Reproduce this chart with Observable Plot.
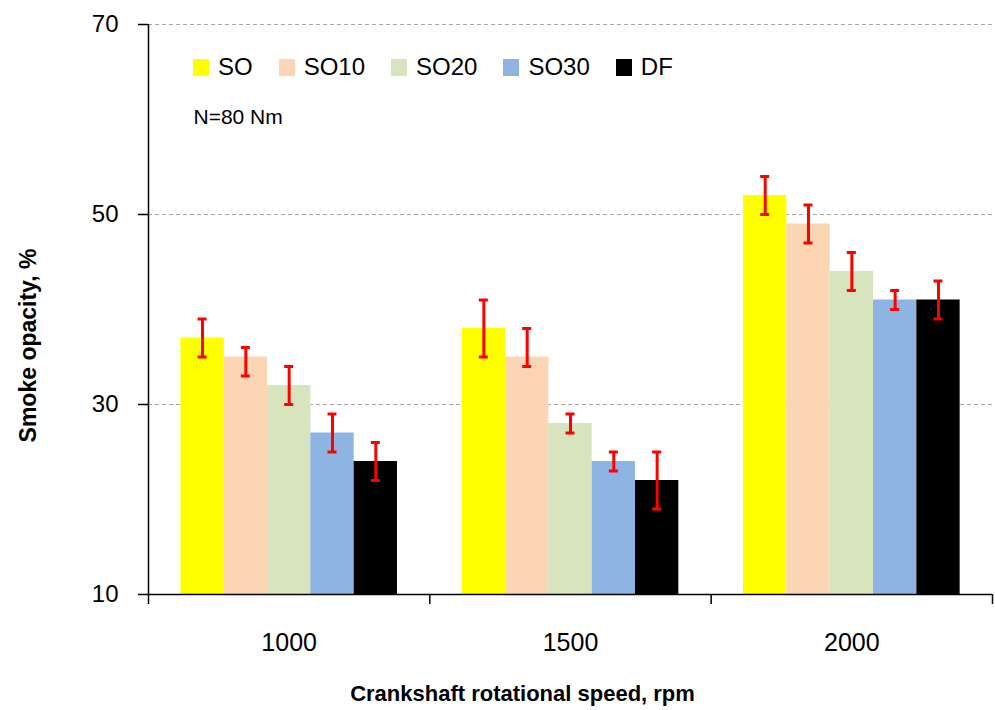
<!DOCTYPE html>
<html>
<head>
<meta charset="utf-8">
<script src="https://cdn.jsdelivr.net/npm/d3@7"></script>
<script src="https://cdn.jsdelivr.net/npm/@observablehq/plot@0.6"></script>
<style>
  html, body { margin: 0; padding: 0; background: #fff; }
  #wrap { position: relative; width: 995px; height: 710px; font-family: "Liberation Sans", Arial, sans-serif; }
  #legend { position: absolute; left: 193px; top: 55px; display: flex; align-items: center; gap: 26px; font-size: 24px; line-height: 24px; color: #000; }
  .item { display: flex; align-items: center; gap: 9px; }
  .sw { width: 16px; height: 17px; display: inline-block; }
</style>
</head>
<body>
<div id="wrap"></div>
<script>
// ---- data ----
const rpm = ["1000", "1500", "2000"];
const series = ["SO", "SO10", "SO20", "SO30", "DF"];
const colors = ["#FFFF00", "#FCD5B5", "#D7E4BD", "#8EB4E3", "#000000"];
const SO   = [37, 38, 52];
const SO10 = [35, 35, 49];
const SO20 = [32, 28, 44];
const SO30 = [27, 24, 41];
const DF   = [24, 22, 41];
const highSO   = [39, 41, 54], lowSO   = [35, 35, 50];
const highSO10 = [36, 38, 51], lowSO10 = [33, 34, 47];
const highSO20 = [34, 29, 46], lowSO20 = [30, 27, 42];
const highSO30 = [29, 25, 42], lowSO30 = [25, 23, 40];
const highDF   = [26, 25, 43], lowDF   = [22, 19, 39];
const yTicks = [10, 30, 50, 70];
const gridTicks = [30, 50, 70];
const noteText = "N=80 Nm";
const xTitle = "Crankshaft rotational speed, rpm";
const yTitle = "Smoke opacity, %";

// ---- build table ----
const vals = [SO, SO10, SO20, SO30, DF];
const highs = [highSO, highSO10, highSO20, highSO30, highDF];
const lows = [lowSO, lowSO10, lowSO20, lowSO30, lowDF];
const barW = 0.154; // fraction of a category slot per bar
const rows = [];
rpm.forEach((r, gi) => {
  series.forEach((s, si) => {
    const g = gi + 1;
    const x1 = g + (si - series.length / 2) * barW;
    rows.push({rpm: r, series: s, value: vals[si][gi], high: highs[si][gi], low: lows[si][gi],
      x1, x2: x1 + barW, cx: x1 + barW / 2});
  });
});
const boundaries = d3.range(0, rpm.length + 1).map(i => i + 0.5);
const centers = rpm.map((_, i) => i + 1);

const chart = Plot.plot({
  width: 995,
  height: 710,
  marginLeft: 148,
  marginRight: 3,
  marginTop: 24,
  marginBottom: 116,
  style: {fontFamily: "\"Liberation Sans\", Arial, sans-serif", background: "#fff", color: "#000", overflow: "visible"},
  x: {type: "linear", domain: [0.5, rpm.length + 0.5]},
  y: {domain: [10, 70]},
  color: {domain: series, range: colors},
  marks: [
    Plot.ruleY(gridTicks, {stroke: "#a6a6a6", strokeDasharray: "4,3", strokeWidth: 1}),
    Plot.rectY(rows, {x1: "x1", x2: "x2", y1: 10, y2: "value", fill: "series"}),
    Plot.ruleX(rows, {x: "cx", y1: "low", y2: "high", stroke: "#FF0000", strokeWidth: 3}),
    Plot.ruleY(rows, {y: "high", x1: "cx", x2: "cx", insetLeft: -4.5, insetRight: -4.5, stroke: "#FF0000", strokeWidth: 3}),
    Plot.ruleY(rows, {y: "low", x1: "cx", x2: "cx", insetLeft: -4.5, insetRight: -4.5, stroke: "#FF0000", strokeWidth: 3}),
    Plot.ruleX([0.5], {stroke: "#000", strokeWidth: 1.5}),
    Plot.ruleY([10], {stroke: "#000", strokeWidth: 1.5}),
    Plot.axisY({ticks: yTicks, tickSize: 10, tickPadding: 20, fontSize: 24, label: null, stroke: "#000", strokeWidth: 1.5}),
    Plot.axisX({ticks: boundaries, tickSize: 10, tickFormat: () => "", label: null, stroke: "#000", strokeWidth: 1.5}),
    Plot.axisX({ticks: centers, tickSize: 0, tickPadding: 39, tickFormat: d => rpm[d - 1], fontSize: 25, label: null}),
    Plot.text([xTitle], {frameAnchor: "bottom", textAnchor: "middle", lineAnchor: "middle", dx: -48, dy: 99, fontSize: 22, fontWeight: "bold", fill: "#000"}),
    Plot.text([yTitle], {frameAnchor: "left", textAnchor: "middle", lineAnchor: "middle", dx: -120, dy: 36, rotate: -90, fontSize: 23, fontWeight: "bold", fill: "#000"}),
    Plot.text([noteText], {frameAnchor: "top-left", textAnchor: "start", lineAnchor: "middle", dx: 45, dy: 93, fontSize: 21, fill: "#000"})
  ]
});

const wrap = document.getElementById("wrap");
wrap.appendChild(chart);
const legend = document.createElement("div");
legend.id = "legend";
series.forEach((s, i) => {
  const item = document.createElement("div");
  item.className = "item";
  const sw = document.createElement("span");
  sw.className = "sw";
  sw.style.background = colors[i];
  const lab = document.createElement("span");
  lab.textContent = s;
  item.appendChild(sw);
  item.appendChild(lab);
  legend.appendChild(item);
});
wrap.appendChild(legend);
</script>
</body>
</html>
